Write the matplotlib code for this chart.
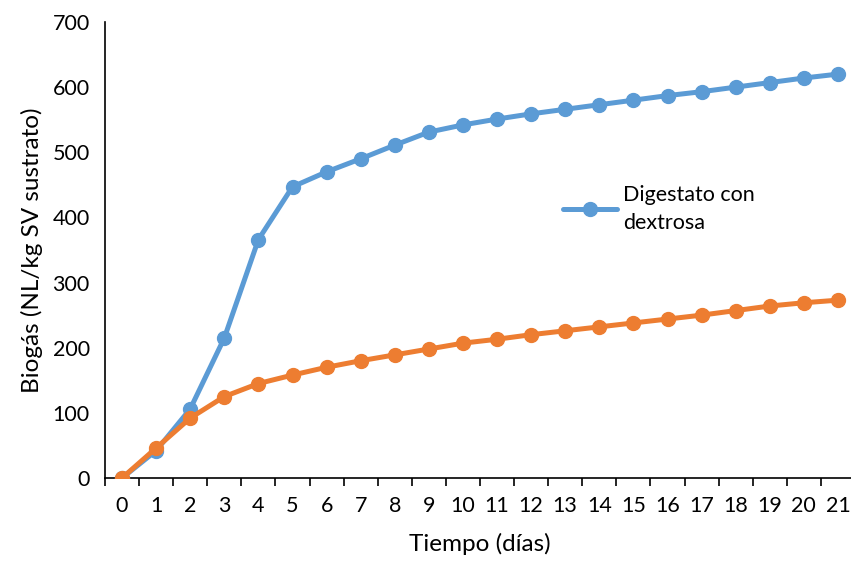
import matplotlib
matplotlib.use("Agg")
import matplotlib.pyplot as plt

plt.rcParams["font.family"] = ["Lato", "DejaVu Sans"]

# days and cumulative biogas (NL/kg SV sustrato)
dias = list(range(22))
dextrosa = [0, 42, 106, 215, 366, 447, 470, 490, 511, 531, 542, 551, 559, 566,
            573, 580, 587, 593, 600, 607, 614, 620]
digestato = [0, 46, 92, 125, 145, 158, 170, 180, 189, 198, 207, 213, 220, 226,
             232, 238, 244, 250, 257, 264, 269, 273]
yticks = [0, 100, 200, 300, 400, 500, 600, 700]

fig = plt.figure(figsize=(8.51, 5.61), dpi=100)
ax = fig.add_axes([105 / 851, 1 - 478 / 561, 750 / 851, 456 / 561])

ax.plot(dias, dextrosa, color="#5B9BD5", lw=3.6, marker="o", ms=10,
        solid_capstyle="round", label="Digestato con\ndextrosa", zorder=3)
ax.plot(dias, digestato, color="#ED7D31", lw=3.6, marker="o", ms=10,
        solid_capstyle="round", zorder=4)

ax.set_xlim(-0.5, 21.5)
ax.set_ylim(0, 700)
ax.set_yticks(yticks)
ax.set_xticks(dias)
ax.set_xticks([d - 0.5 for d in dias] + [21.5], minor=True)
ax.tick_params(axis="x", which="major", length=0, labelsize=15.5, pad=13)
ax.tick_params(axis="x", which="minor", length=6, width=1.2, direction="out")
ax.tick_params(axis="y", length=0, labelsize=15.5, pad=11)

for s in ["top", "right"]:
    ax.spines[s].set_visible(False)
for s in ["left", "bottom"]:
    ax.spines[s].set_linewidth(1.2)
ax.spines["bottom"].set_clip_on(False)

ax.set_xlabel("Tiempo (días)", fontsize=17.5, labelpad=12)
ax.set_ylabel("Biogás (NL/kg SV sustrato)", fontsize=17.5, labelpad=7)

leg = ax.legend(loc="center left", bbox_to_anchor=(552 / 851, 1 - 209 / 561),
                bbox_transform=fig.transFigure, frameon=False, fontsize=15.5,
                handlelength=2.5, handletextpad=0.3, borderpad=0)
for t in leg.get_texts():
    t.set_linespacing(1.55)

fig.savefig("out.png", dpi=100)
